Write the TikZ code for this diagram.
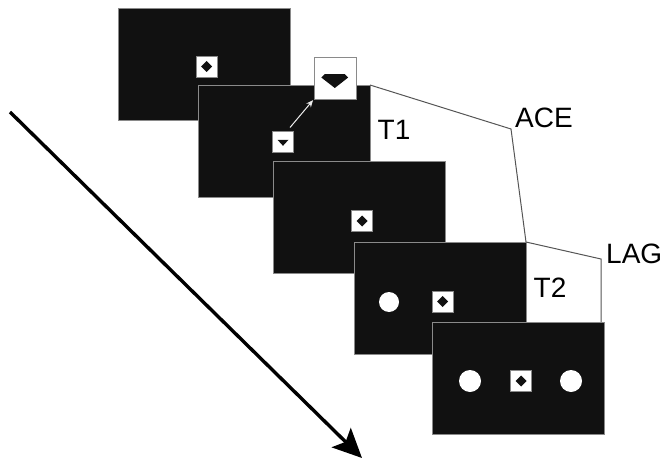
\documentclass[tikz,border=0pt]{standalone}
\usepackage{fontspec}
\setmainfont{Liberation Sans}
\usetikzlibrary{arrows.meta,calc}
\definecolor{scr}{HTML}{111111}
\definecolor{edge}{HTML}{8A8A8A}
\definecolor{conn}{HTML}{555555}
\tikzset{
  screen/.style={draw=edge, line width=0.8pt, fill=scr, minimum width=172pt, minimum height=112pt, inner sep=0pt, outer sep=0pt},
  stim/.style={draw=edge, line width=0.6pt, fill=white, minimum width=21pt, minimum height=21pt, inner sep=0pt, outer sep=0pt},
  magbox/.style={draw=edge, line width=1pt, fill=white, minimum width=42pt, minimum height=41pt, inner sep=0pt, outer sep=0pt},
  dot/.style={circle, fill=white, draw=none, inner sep=0pt},
  lbl/.style={font=\fontsize{28}{32}\selectfont, inner sep=0pt},
  conline/.style={draw=conn, line width=1pt, line join=miter},
}
\newcommand{\diam}[1]{\fill[scr] ($(#1)+(0,-5.5)$) -- ($(#1)+(5.5,0)$) -- ($(#1)+(0,5.5)$) -- ($(#1)+(-5.5,0)$) -- cycle;}
\begin{document}
\begin{tikzpicture}[x=1pt,y=-1pt]
\useasboundingbox (0,0) rectangle (661,460);
% screen 1
\node[screen] (s1) at (204.5,64.5) {};
\node[stim] (q1) at (206.5,66.5) {};
\diam{q1}
% screen 2
\node[screen] (s2) at (284,141) {};
\node[stim] (q2) at (283,142) {};
\fill[scr] (277.5,139.8) -- (288.5,139.8) -- (283,145.8) -- cycle;
\coordinate (ace) at (511,129);
% magnified
\node[magbox] (mag) at (335,78.5) {};
\fill[scr] (325,74) -- (344.5,74) -- (348.2,77.5) -- (334.8,88) -- (321.3,77.5) -- cycle;
\coordinate (zstart) at ($(q2.north)+(7,-4)$);
\draw[draw=white!85!gray, line width=1pt, -{Stealth[length=7pt,width=6pt]}, shorten >=1.5pt] (zstart) -- (mag.south west);
\node[lbl] (t1) at (394,130) {T1};
% screen 3
\node[screen] (s3) at (359.5,217.5) {};
\node[stim] (q3) at (362,221) {};
\diam{q3}
% screen 4
\node[screen] (s4) at (440,298) {};
\node[stim] (q4) at (442.5,301.5) {};
\diam{q4}
\node[dot, minimum size=20pt] (c4) at (389,302) {};
\node[lbl] (t2) at (550,288) {T2};
% lines
\draw[conline] (s2.north east) -- (ace) -- (s4.north east);
\coordinate (lag) at (601,259);
\coordinate (lagend) at (601,322);
\draw[conline] (s4.north east) -- (lag) -- (lagend);
% screen 5
\node[screen] (s5) at (518.5,378) {};
\node[stim] (q5) at (521,381) {};
\diam{q5}
\node[dot, minimum size=22pt] (c5a) at (470,381) {};
\node[dot, minimum size=22pt] (c5b) at (571,381) {};
% labels
\node[lbl, anchor=west] (acel) at (515,118) {ACE};
\node[lbl, anchor=west] (lagl) at (606,254) {LAG};
% time arrow
\coordinate (tstart) at (10,112);
\coordinate (tend) at (362,458);
\draw[line width=3.4pt, -{Stealth[length=29pt,width=27pt,inset=6pt]}] (tstart) -- (tend);
\end{tikzpicture}
\end{document}
